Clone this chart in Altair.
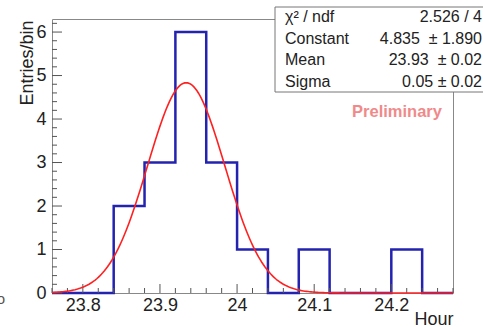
import altair as alt
import numpy as np
import pandas as pd

# Histogram of entries per bin (bin width 0.04 h)
bin_edges = [23.76, 23.80, 23.84, 23.88, 23.92, 23.96, 24.00,
             24.04, 24.08, 24.12, 24.16, 24.20, 24.24, 24.28]
bin_counts = [0, 0, 2, 3, 6, 3, 1, 0, 1, 0, 0, 1, 0]

# Gaussian fit parameters
fit_constant = 4.835
fit_mean = 23.934
fit_sigma = 0.05

# Axis ticks and labels
x_major = [23.8, 23.9, 24.0, 24.1, 24.2]
y_major = [0, 1, 2, 3, 4, 5, 6]
x_domain = [23.76, 24.28]
y_domain = [0, 6.3]

# Stats box text
stat_names = ["\u03c7\u00b2 / ndf", "Constant", "Mean", "Sigma"]
stat_values = ["2.526 / 4", "4.835 \u00a0\u00b1 1.890", "23.93 \u00a0\u00b1 0.02", "0.05 \u00b1 0.02"]

W, H = 401, 274
FONT = "Liberation Sans"

hist_df = pd.DataFrame({"x": bin_edges, "n": bin_counts + [bin_counts[-1]]})
xs = np.linspace(x_domain[0], x_domain[1], 261)
fit_df = pd.DataFrame({
    "x": xs,
    "f": fit_constant * np.exp(-0.5 * ((xs - fit_mean) / fit_sigma) ** 2),
})

x_minor = [v for v in np.round(np.arange(23.76, 24.2801, 0.02), 2) if v not in x_major]
y_minor = [v for v in np.round(np.arange(0, 6.21, 0.2), 1) if v not in y_major]

xs_scale = alt.Scale(domain=x_domain, nice=False, zero=False)
ys_scale = alt.Scale(domain=y_domain, nice=False)

x_axis = alt.Axis(values=x_major, labelExpr="datum.value == 24 ? '24' : format(datum.value, '.1f')",
                  ticks=False, domain=False, grid=False, labelFontSize=18, labelFont=FONT,
                  labelColor="#222", labelPadding=3, title="Hour", titleFont=FONT,
                  titleFontSize=18, titleFontWeight="normal", titleColor="#222",
                  titleAlign="right", titleX=W, titleY=31, titleBaseline="alphabetic")
y_axis = alt.Axis(values=y_major, ticks=False, domain=False, grid=False, labelFontSize=18,
                  labelFont=FONT, labelColor="#222", labelPadding=6, title="Entries/bin",
                  titleFont=FONT, titleFontSize=18, titleFontWeight="normal", titleColor="#222",
                  titleAngle=-90, titleAlign="right", titleX=-20, titleY=1,
                  titleBaseline="alphabetic")

hist = alt.Chart(hist_df).mark_line(interpolate="step-after", color="#2323b0", strokeWidth=2.5).encode(
    x=alt.X("x:Q", scale=xs_scale, axis=x_axis),
    y=alt.Y("n:Q", scale=ys_scale, axis=y_axis),
)

fit = alt.Chart(fit_df).mark_line(color="#ff2020", strokeWidth=1.6).encode(
    x=alt.X("x:Q", scale=xs_scale),
    y=alt.Y("f:Q", scale=ys_scale),
)

tick_color = "#555"
xt_major = alt.Chart(pd.DataFrame({"x": x_major})).mark_rule(color=tick_color, strokeWidth=1).encode(
    x=alt.X("x:Q", scale=xs_scale), y=alt.value(H), y2=alt.value(H - 9))
xt_minor = alt.Chart(pd.DataFrame({"x": x_minor})).mark_rule(color=tick_color, strokeWidth=1).encode(
    x=alt.X("x:Q", scale=xs_scale), y=alt.value(H), y2=alt.value(H - 5))
yt_major = alt.Chart(pd.DataFrame({"y": y_major})).mark_rule(color=tick_color, strokeWidth=1).encode(
    y=alt.Y("y:Q", scale=ys_scale), x=alt.value(0), x2=alt.value(10))
yt_minor = alt.Chart(pd.DataFrame({"y": y_minor})).mark_rule(color=tick_color, strokeWidth=1).encode(
    y=alt.Y("y:Q", scale=ys_scale), x=alt.value(0), x2=alt.value(5))

# Stats box in the top-right corner
box = alt.Chart(pd.DataFrame({"k": [0]})).mark_rect(fill="white", stroke="#777", strokeWidth=1).encode(
    x=alt.value(223), x2=alt.value(436), y=alt.value(-12), y2=alt.value(73))

stat_df = pd.DataFrame({"name": stat_names, "val": stat_values, "row": [0, 1, 2, 3]})
row_y = "-2 + datum.row * 21.7"
names = alt.Chart(stat_df).transform_calculate(py=row_y).mark_text(
    align="left", baseline="middle", font=FONT, fontSize=16, color="#222").encode(
    x=alt.value(233), y=alt.Y("py:Q", scale=None), text="name:N")
vals = alt.Chart(stat_df).transform_calculate(py=row_y).mark_text(
    align="right", baseline="middle", font=FONT, fontSize=16, color="#222").encode(
    x=alt.value(430), y=alt.Y("py:Q", scale=None), text="val:N")

prelim = alt.Chart(pd.DataFrame({"t": ["Preliminary"]})).mark_text(
    align="center", baseline="middle", font=FONT, fontSize=16.5, fontWeight="bold",
    color="#f08a8a").encode(x=alt.value(345), y=alt.value(93), text="t:N")

stray = alt.Chart(pd.DataFrame({"t": ["o"]})).mark_text(
    align="center", baseline="middle", font=FONT, fontSize=15, color="#555").encode(
    x=alt.value(-51), y=alt.value(280), text="t:N")

chart = alt.layer(
    hist, xt_major, xt_minor, yt_major, yt_minor, fit, box, names, vals, prelim, stray
).properties(
    width=W, height=H,
    padding={"left": 52, "top": 19, "right": 30, "bottom": 34},
    autosize=alt.AutoSizeParams(type="none"),
    background="white",
).configure_view(stroke="#888", strokeWidth=1)

chart.save("out.html", embed_options={"renderer": "svg", "actions": False})
